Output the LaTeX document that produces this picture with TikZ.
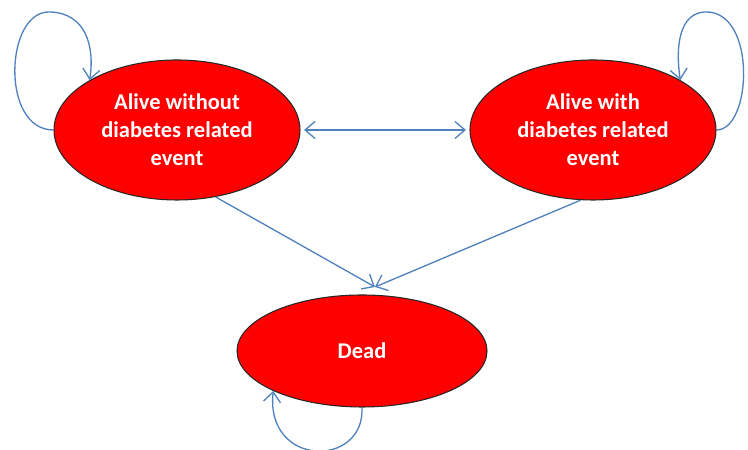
\documentclass[tikz,border=0pt]{standalone}
\usepackage{fontspec}
\setmainfont{Carlito}
\usepackage{tikz}
\usetikzlibrary{arrows.meta,shapes.geometric}
\definecolor{linkblue}{RGB}{79,129,189}

\begin{document}
\begin{tikzpicture}[x=0.2mm,y=0.2mm,
	>={Straight Barb[length=2mm,width=3.4mm]},
	state/.style={ellipse, draw=black!85, line width=0.6pt, fill=red, text=white, font=\bfseries\fontsize{12.8}{16}\selectfont, align=center, inner sep=0pt},
	link/.style={draw=linkblue, line width=0.75pt}]
\useasboundingbox (0,0) rectangle (748,450);

\node[state, minimum width=49.2mm, minimum height=28mm] (without) at (177,320) {Alive without\\diabetes related\\event}; % state 1
\node[state, minimum width=49.2mm, minimum height=28mm] (with) at (593,320) {Alive with\\diabetes related\\event}; % state 2
\node[state, minimum width=50mm, minimum height=22.4mm] (dead) at (362,99) {Dead}; % absorbing state

\draw[link, <->, shorten <=2pt, shorten >=2pt] (without.east) -- (with.west); % transitions both ways
\draw[link, ->] (without.-60) -- ([xshift=2.6mm,yshift=1.5mm]dead.north); % to dead
\draw[link, ->] (with.-100) -- ([xshift=2.6mm,yshift=1.5mm]dead.north); % to dead

% loops: staying in the same state
\draw[link, ->] (without.west) .. controls (0,320) and (5,440) .. (50,438) .. controls (85,437) and (95,405) .. (without.north west);
\draw[link, ->] (with.east) .. controls (752,320) and (757,440) .. (705,438) .. controls (680,437) and (675,405) .. (with.north east);
\draw[link, ->] (dead.south) .. controls (365,-18) and (265,-18) .. (dead.south west);
\end{tikzpicture}
\end{document}
